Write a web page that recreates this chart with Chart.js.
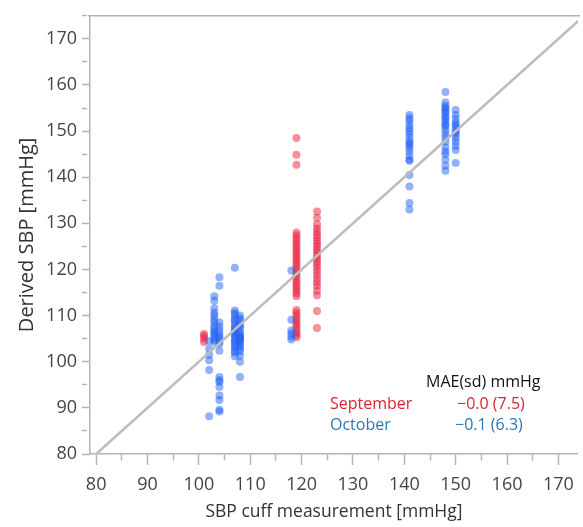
<!DOCTYPE html>
<html>
<head>
<meta charset="utf-8">
<script src="https://cdn.jsdelivr.net/npm/chart.js@4/dist/chart.umd.min.js"></script>
<style>
  html, body { margin: 0; padding: 0; background: #fff; }
  #wrap { position: relative; width: 583px; height: 527px; overflow: hidden; }
  canvas { position: absolute; left: 0; top: 0; }
  .note { position: absolute; font-family: "Open Sans", sans-serif; font-size: 16px; line-height: 20px; white-space: nowrap; }
</style>
</head>
<body>
<div id="wrap">
  <canvas id="c" width="583" height="527"></canvas>
  <div class="note" style="left:426px;top:371px;color:#111;">MAE(sd) mmHg</div>
  <div class="note" style="left:330px;top:393px;color:#d9262f;">September</div>
  <div class="note" style="left:457px;top:393px;color:#d9262f;">−0.0 (7.5)</div>
  <div class="note" style="left:330px;top:414px;color:#2a78b8;">October</div>
  <div class="note" style="left:455px;top:414px;color:#2a78b8;">−0.1 (6.3)</div>
</div>
<script>
// ---- Data ----
const xTicks = [80, 90, 100, 110, 120, 130, 140, 150, 160, 170];
const yTicks = [80, 90, 100, 110, 120, 130, 140, 150, 160, 170];
const minorStep = 5;
const identityLine = [80, 175];

// September: cuff values and derived values per cuff value
const septemberCuff = [101, 108, 119, 123];
const septemberDerived = [
  [104.3, 105.0, 105.6, 106.0],
  [104.8, 105.3],
  [148.5, 144.9, 142.7,
   128, 127.4, 126.8, 126.2, 125.6, 125, 124.4, 123.8, 123.2, 122.6, 122, 121.4, 120.8, 120.2, 119.6, 119, 118.4, 117.8, 117.2, 116.6, 116, 115.4, 114.8, 114.2,
   111.2, 110.6, 110, 109.4, 108.8, 108.2, 107.6, 107, 106.4, 105.8, 105.3],
  [132.6, 131.2, 129.8, 128.9, 128.2, 127.5, 126.9, 126.2, 125.6, 125, 124.3, 123.7, 123, 122.4, 121.8, 121.1, 120.4, 119.6, 118.8, 118, 117.2, 116.4, 115.4, 114.4,
   111, 107.3]
];

// October: cuff values and derived values per cuff value
const octoberCuff = [102, 103, 104, 107, 108, 118, 141, 148, 150];
const octoberDerived = [
  [88.2, 98.2, 100.3, 101.5, 102.8, 104.5],
  [114.2, 113.2, 111.6, 110.6, 110.0, 109.2, 108.6, 107.8, 107.2, 106.6, 106.3, 105.8, 105.3, 104.7, 104.2],
  [118.3, 116.5, 108.5, 107.6, 106.8, 106, 105.4, 105, 104.4, 103.9, 102.4, 96.7, 96.0, 95.6, 94.5, 92.7, 91.7, 89.6, 89.2],
  [120.4, 111.1, 110.6, 110.2, 109.5, 109, 108.5, 107.8, 107.3, 107, 106.5, 106.3, 105.9, 105.5, 104.8, 104.4, 104, 103.4, 103, 102.4, 102, 101.2],
  [110, 109.4, 109, 108.2, 107.7, 107.3, 106.5, 106, 105.7, 105.2, 105, 104.6, 104.2, 103.8, 103.3, 102.8, 102.3, 101.3, 100, 96.7],
  [119.8, 109.1, 106.8, 106.1, 105.4, 104.8],
  [153.5, 152.8, 152.2, 151.3, 150.6, 150, 149.4, 148.6, 147.8, 147.3, 147, 146.3, 145.6, 144.6, 143.8, 143.6, 140.5, 138, 134.4, 133],
  [158.5, 156.2, 155.5, 155, 154.8, 154.2, 154, 153.3, 152.9, 152.5, 151.8, 151.3, 151, 150.2, 149.4, 148.6, 147.7, 146.5, 145.6, 145, 143.8, 142.5, 141.4],
  [154.6, 153.5, 152.6, 151.8, 151.3, 150.9, 150.1, 149.7, 149.3, 148.5, 147.7, 146.8, 145.9, 143.1]
];

function toPoints(cuff, derived) {
  const pts = [];
  cuff.forEach((x, i) => derived[i].forEach(y => pts.push({ x: x, y: y })));
  return pts;
}

// major ticks plus the minor ticks halfway between them
function tickValues(major, scale) {
  const vals = [];
  major.forEach(v => {
    vals.push(v);
    if (v + minorStep <= scale.max) vals.push(v + minorStep);
  });
  return vals.map(v => ({ value: v }));
}

const FONT = '"Open Sans", sans-serif';
const AXIS_GRAY = '#b4b4b4';

const frameTop = {
  id: 'frameTop',
  afterDraw(chart) {
    const a = chart.chartArea, ctx = chart.ctx;
    ctx.save();
    ctx.strokeStyle = AXIS_GRAY;
    ctx.lineWidth = 1.5;
    ctx.beginPath();
    ctx.moveTo(a.left - 2, a.top);
    ctx.lineTo(a.right + 2, a.top);
    ctx.stroke();
    ctx.restore();
  }
};

const isMajor = (v, list) => list.some(t => Math.abs(t - v) < 1e-6);

new Chart(document.getElementById('c'), {
  type: 'scatter',
  data: {
    datasets: [
      {
        label: 'identity',
        data: identityLine.map(v => ({ x: v, y: v })),
        showLine: true,
        borderColor: '#bdbdbd',
        borderWidth: 2.5,
        pointRadius: 0,
        order: 0
      },
      {
        label: 'October',
        data: toPoints(octoberCuff, octoberDerived),
        backgroundColor: 'rgba(35, 100, 245, 0.5)',
        borderWidth: 0,
        pointRadius: 4,
        order: 1
      },
      {
        label: 'September',
        data: toPoints(septemberCuff, septemberDerived),
        backgroundColor: 'rgba(235, 30, 60, 0.5)',
        borderWidth: 0,
        pointRadius: 4,
        order: 2
      }
    ]
  },
  options: {
    responsive: false,
    animation: false,
    layout: { padding: { top: 14, right: 0, left: 11, bottom: 0 } },
    plugins: { legend: { display: false }, tooltip: { enabled: false } },
    scales: {
      x: {
        type: 'linear',
        min: 78.8,
        max: 173.8,
        afterFit: s => { s.height = 73; },
        afterBuildTicks: s => { s.ticks = tickValues(xTicks, s); },
        border: { color: AXIS_GRAY, width: 1.5 },
        grid: {
          drawOnChartArea: false,
          color: AXIS_GRAY,
          tickColor: AXIS_GRAY,
          tickLength: 11,
          tickWidth: 1.5,
          tickBorderDash: ctx => isMajor(ctx.tick ? ctx.tick.value : 0, xTicks) ? [] : [6, 40]
        },
        ticks: {
          autoSkip: false,
          maxRotation: 0,
          padding: 9,
          color: '#444',
          font: { family: FONT, size: 18 },
          callback: v => isMajor(v, xTicks) ? String(Math.round(v)) : ''
        },
        title: {
          display: true,
          text: 'SBP cuff measurement [mmHg]',
          color: '#333',
          font: { family: FONT, size: 17.5 },
          padding: { top: 4, bottom: 4 }
        }
      },
      y: {
        type: 'linear',
        min: 80,
        max: 175,
        afterFit: s => { s.width = 79; },
        afterBuildTicks: s => { s.ticks = tickValues(yTicks, s); },
        border: { color: AXIS_GRAY, width: 1.5 },
        grid: {
          drawOnChartArea: false,
          color: AXIS_GRAY,
          tickColor: AXIS_GRAY,
          tickLength: 8,
          tickWidth: 1.5,
          tickBorderDash: ctx => isMajor(ctx.tick ? ctx.tick.value : 0, yTicks) ? [] : [5, 40]
        },
        ticks: {
          autoSkip: false,
          padding: 5,
          color: '#444',
          font: { family: FONT, size: 18 },
          callback: v => isMajor(v, yTicks) ? String(Math.round(v)) : ''
        },
        title: {
          display: true,
          text: 'Derived SBP [mmHg]',
          color: '#333',
          font: { family: FONT, size: 20 },
          padding: { top: 4, bottom: 4 }
        }
      }
    }
  },
  plugins: [frameTop]
});
</script>
</body>
</html>
